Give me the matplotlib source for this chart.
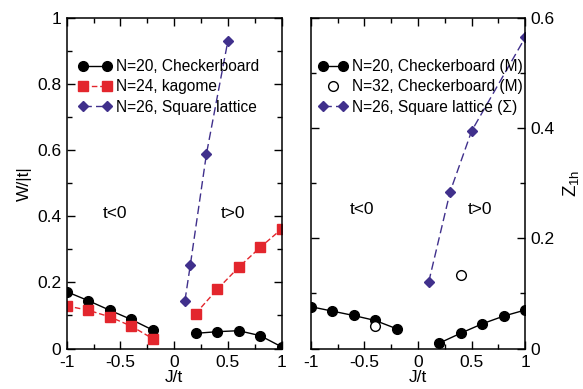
import numpy as np
import matplotlib
matplotlib.use('Agg')
import matplotlib.pyplot as plt
from matplotlib.ticker import MultipleLocator
from matplotlib.legend_handler import HandlerLine2D

plt.rcParams['font.family'] = ['Liberation Sans', 'DejaVu Sans']
plt.rcParams['mathtext.fontset'] = 'custom'
plt.rcParams['mathtext.rm'] = 'Liberation Sans'
plt.rcParams['mathtext.it'] = 'Liberation Sans'

# ---- left panel: W/|t| ----
J_neg = [-1.0, -0.8, -0.6, -0.4, -0.2]
J_pos = [0.2, 0.4, 0.6, 0.8, 1.0]
W_chk_neg = [0.172, 0.145, 0.116, 0.088, 0.056]
W_chk_pos = [0.046, 0.051, 0.054, 0.039, 0.005]
W_kag_neg = [0.129, 0.116, 0.096, 0.068, 0.030]
W_kag_pos = [0.106, 0.179, 0.246, 0.306, 0.362]
J_sq = [0.1, 0.15, 0.3, 0.5]
W_sq = [0.145, 0.253, 0.589, 0.932]

# ---- right panel: Z_1h ----
Z_chk_neg = [0.076, 0.068, 0.060, 0.051, 0.036]
Z_chk_pos = [0.010, 0.028, 0.045, 0.059, 0.070]
J_open = [-0.4, 0.4]
Z_open = [0.041, 0.134]
J_sq2 = [0.1, 0.3, 0.5, 1.0]
Z_sq = [0.121, 0.285, 0.395, 0.565]

red = '#e3262d'
purple = '#40308c'

fig = plt.figure(figsize=(5.83, 3.89), dpi=100)
ax1 = fig.add_axes([0.1144, 0.104, 0.3688, 0.8496])
ax2 = fig.add_axes([0.533, 0.104, 0.368, 0.8496])

fs = 12.5
lfs = 11.2

ax1.plot(J_neg, W_chk_neg, '-o', color='k', ms=7, lw=1.0, label='N=20, Checkerboard')
ax1.plot(J_pos, W_chk_pos, '-o', color='k', ms=7, lw=1.0)
ax1.plot(J_neg, W_kag_neg, '--s', color=red, ms=6.5, lw=1.0, dashes=(4, 2), label='N=24, kagome')
ax1.plot(J_pos, W_kag_pos, '--s', color=red, ms=6.5, lw=1.0, dashes=(4, 2))
ax1.plot(J_sq, W_sq, '--D', color=purple, ms=5, lw=1.0, dashes=(6, 3), label='N=26, Square lattice')
ax1.text(-0.55, 0.41, 't<0', fontsize=fs, ha='center', va='center')
ax1.text(0.55, 0.41, 't>0', fontsize=fs, ha='center', va='center')
ax1.set_xlim(-1, 1)
ax1.set_ylim(0, 1)
ax1.set_xlabel('J/t', fontsize=fs, labelpad=0)
ax1.set_ylabel('W/|t|', fontsize=fs, labelpad=4)
ax1.xaxis.set_minor_locator(MultipleLocator(0.25))
ax1.yaxis.set_minor_locator(MultipleLocator(0.1))
ax1.set_xticks([-1, -0.5, 0, 0.5, 1])
ax1.set_xticklabels(['-1', '-0.5', '0', '0.5', '1'])
ax1.set_yticks([0, 0.2, 0.4, 0.6, 0.8, 1])
ax1.set_yticklabels(['0', '0.2', '0.4', '0.6', '0.8', '1'])
ax1.legend(loc='upper left', bbox_to_anchor=(0.054, 0.875), frameon=False, fontsize=lfs,
           numpoints=2, handlelength=2.15, handletextpad=0.3, labelspacing=0.33,
           borderaxespad=0, borderpad=0)

ax2.plot(J_neg, Z_chk_neg, '-o', color='k', ms=7, lw=1.0, label='N=20, Checkerboard (M)')
ax2.plot(J_pos, Z_chk_pos, '-o', color='k', ms=7, lw=1.0)
open_pts, = ax2.plot(J_open, Z_open, 'o', mfc='white', mec='k', mew=1.0, ms=7,
                     linestyle='none', label='N=32, Checkerboard (M)')
ax2.plot(J_sq2, Z_sq, '--D', color=purple, ms=5, lw=1.0, dashes=(6, 3),
         label='N=26, Square lattice (Σ)')
ax2.text(-0.52, 0.253, 't<0', fontsize=fs, ha='center', va='center')
ax2.text(0.58, 0.253, 't>0', fontsize=fs, ha='center', va='center')
ax2.set_xlim(-1, 1)
ax2.set_ylim(0, 0.6)
ax2.set_xlabel('J/t', fontsize=fs, labelpad=0)
ax2.yaxis.set_label_position('right')
ax2.yaxis.tick_right()
ax2.set_ylabel('Z$_{\\mathregular{1h}}$', fontsize=fs + 1, labelpad=4)
ax2.xaxis.set_minor_locator(MultipleLocator(0.25))
ax2.yaxis.set_minor_locator(MultipleLocator(0.1))
ax2.set_xticks([-1, -0.5, 0, 0.5, 1])
ax2.set_xticklabels(['-1', '-0.5', '0', '0.5', '1'])
ax2.set_yticks([0, 0.2, 0.4, 0.6])
ax2.set_yticklabels(['0', '0.2', '0.4', '0.6'])
ax2.legend(loc='upper left', bbox_to_anchor=(0.034, 0.875), frameon=False, fontsize=lfs,
           numpoints=2, handlelength=1.88, handletextpad=0.3, labelspacing=0.33,
           borderaxespad=0, borderpad=0,
           handler_map={open_pts: HandlerLine2D(numpoints=1)})

for ax in (ax1, ax2):
    ax.tick_params(which='both', direction='in', top=True, bottom=True, left=True,
                   right=True, labelsize=fs, width=1.0)
    ax.tick_params(which='major', length=6, pad=4)
    ax.tick_params(which='minor', length=3.5)
    ax.tick_params(axis='x', which='major', pad=5)
    for s in ax.spines.values():
        s.set_linewidth(1.1)
ax2.tick_params(which='both', labelleft=False, labelright=True)

fig.savefig('out.png', dpi=100)
